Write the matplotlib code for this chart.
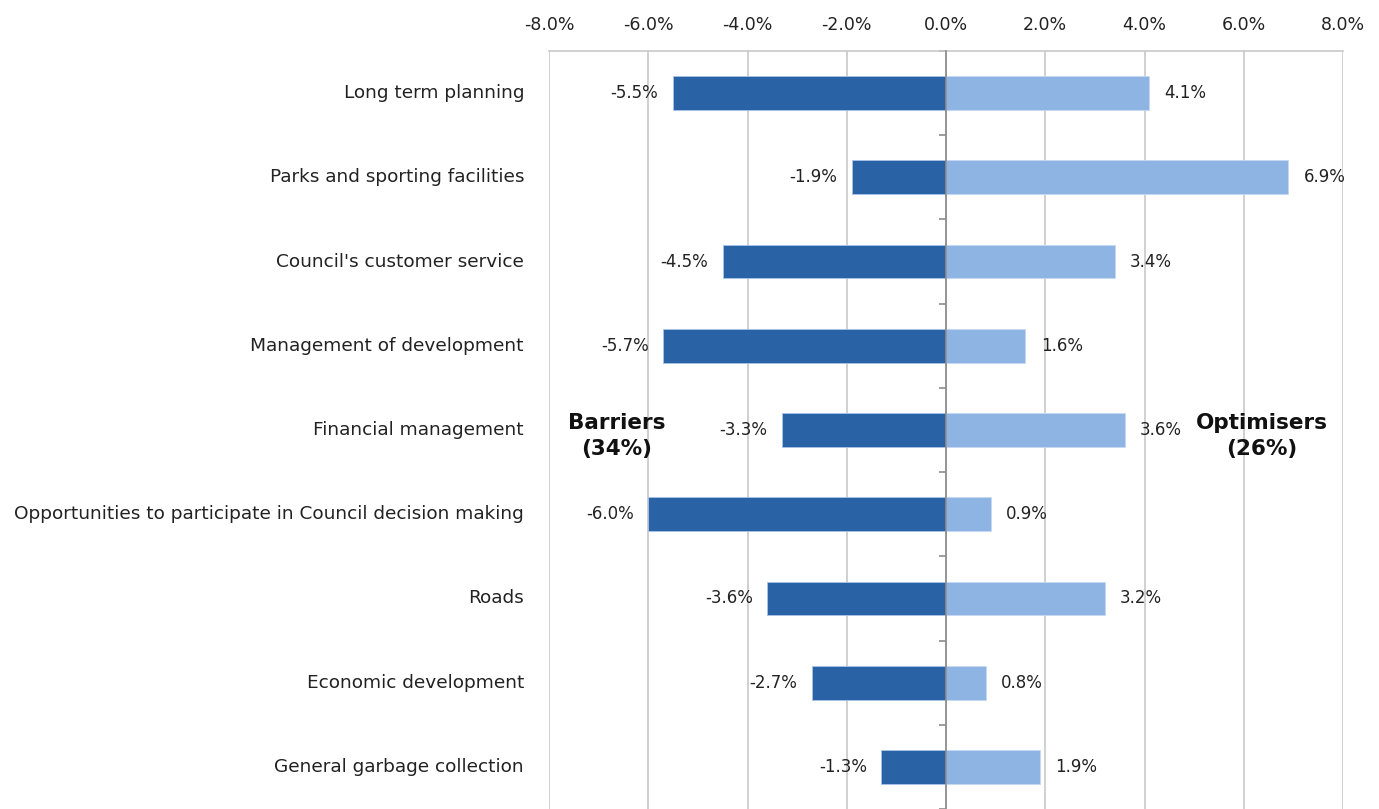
import matplotlib.pyplot as plt
import matplotlib.transforms as mtransforms
import numpy as np

categories = ["Long term planning", "Parks and sporting facilities", "Council's customer service",
              "Management of development", "Financial management",
              "Opportunities to participate in Council decision making", "Roads",
              "Economic development", "General garbage collection"]
barriers = [-5.5, -1.9, -4.5, -5.7, -3.3, -6.0, -3.6, -2.7, -1.3]
optimisers = [4.1, 6.9, 3.4, 1.6, 3.6, 0.9, 3.2, 0.8, 1.9]
xticks = [-8, -6, -4, -2, 0, 2, 4, 6, 8]

plt.rcParams['font.family'] = ['DejaVu Sans']

fig = plt.figure(figsize=(13.79, 8.09), dpi=100)
ax = fig.add_axes([549 / 1379, 0, (1343 - 549) / 1379, 1 - 51 / 809])

y = np.arange(len(categories))
ax.barh(y, barriers, height=0.4, color="#2A62A6", edgecolor="#A9C4E8", linewidth=0.6, zorder=3)
ax.barh(y, optimisers, height=0.4, color="#8EB4E3", edgecolor="#C5D8F0", linewidth=0.6, zorder=3)

for yi, v in zip(y, barriers):
    ax.annotate(f"{v:.1f}%", (v, yi), xytext=(-10.5, 0), textcoords="offset points",
                ha="right", va="center", fontsize=12, color="#222222", zorder=4)
for yi, v in zip(y, optimisers):
    ax.annotate(f"{v:.1f}%", (v, yi), xytext=(11, 0), textcoords="offset points",
                ha="left", va="center", fontsize=12, color="#222222", zorder=4)

ax.set_xlim(-8, 8)
ax.set_ylim(len(categories) - 0.54, -0.5)
ax.set_xticks(xticks)
ax.set_xticklabels([f"{t:.1f}%" for t in xticks], fontsize=12.5, color="#222222")
ax.xaxis.tick_top()
ax.tick_params(axis="x", length=0, pad=12)
ax.grid(axis="x", color="#C8C8C8", linewidth=1.2, zorder=0)

# zero line as the category axis, with ticks between categories
ax.spines["left"].set_position(("data", 0))
ax.spines["left"].set_color("#8C8C8C")
ax.spines["left"].set_linewidth(1.2)
ax.spines["left"].set_zorder(5)
ax.set_yticks(y)
ax.set_yticklabels([])
ax.tick_params(axis="y", which="major", length=0)
ax.set_yticks(np.arange(len(categories) + 1) - 0.5, minor=True)
ax.tick_params(axis="y", which="minor", length=5, color="#8C8C8C", width=1.2)
for s in ["right", "bottom"]:
    ax.spines[s].set_visible(False)
ax.spines["top"].set_color("#C8C8C8")
ax.spines["top"].set_linewidth(1.2)

trans = mtransforms.blended_transform_factory(fig.transFigure, ax.transData)
for yi, c in zip(y, categories):
    ax.text(524 / 1379, yi, c, transform=trans, ha="right", va="center",
            fontsize=13.3, color="#222222")

ax.text(-6.63, 4.07, "Barriers\n(34%)", ha="center", va="center", fontsize=15.5,
        fontweight="bold", color="#111111", linespacing=1.35, zorder=6)
ax.text(6.37, 4.07, "Optimisers\n(26%)", ha="center", va="center", fontsize=15.5,
        fontweight="bold", color="#111111", linespacing=1.35, zorder=6)

fig.savefig("out.png", dpi=100)
